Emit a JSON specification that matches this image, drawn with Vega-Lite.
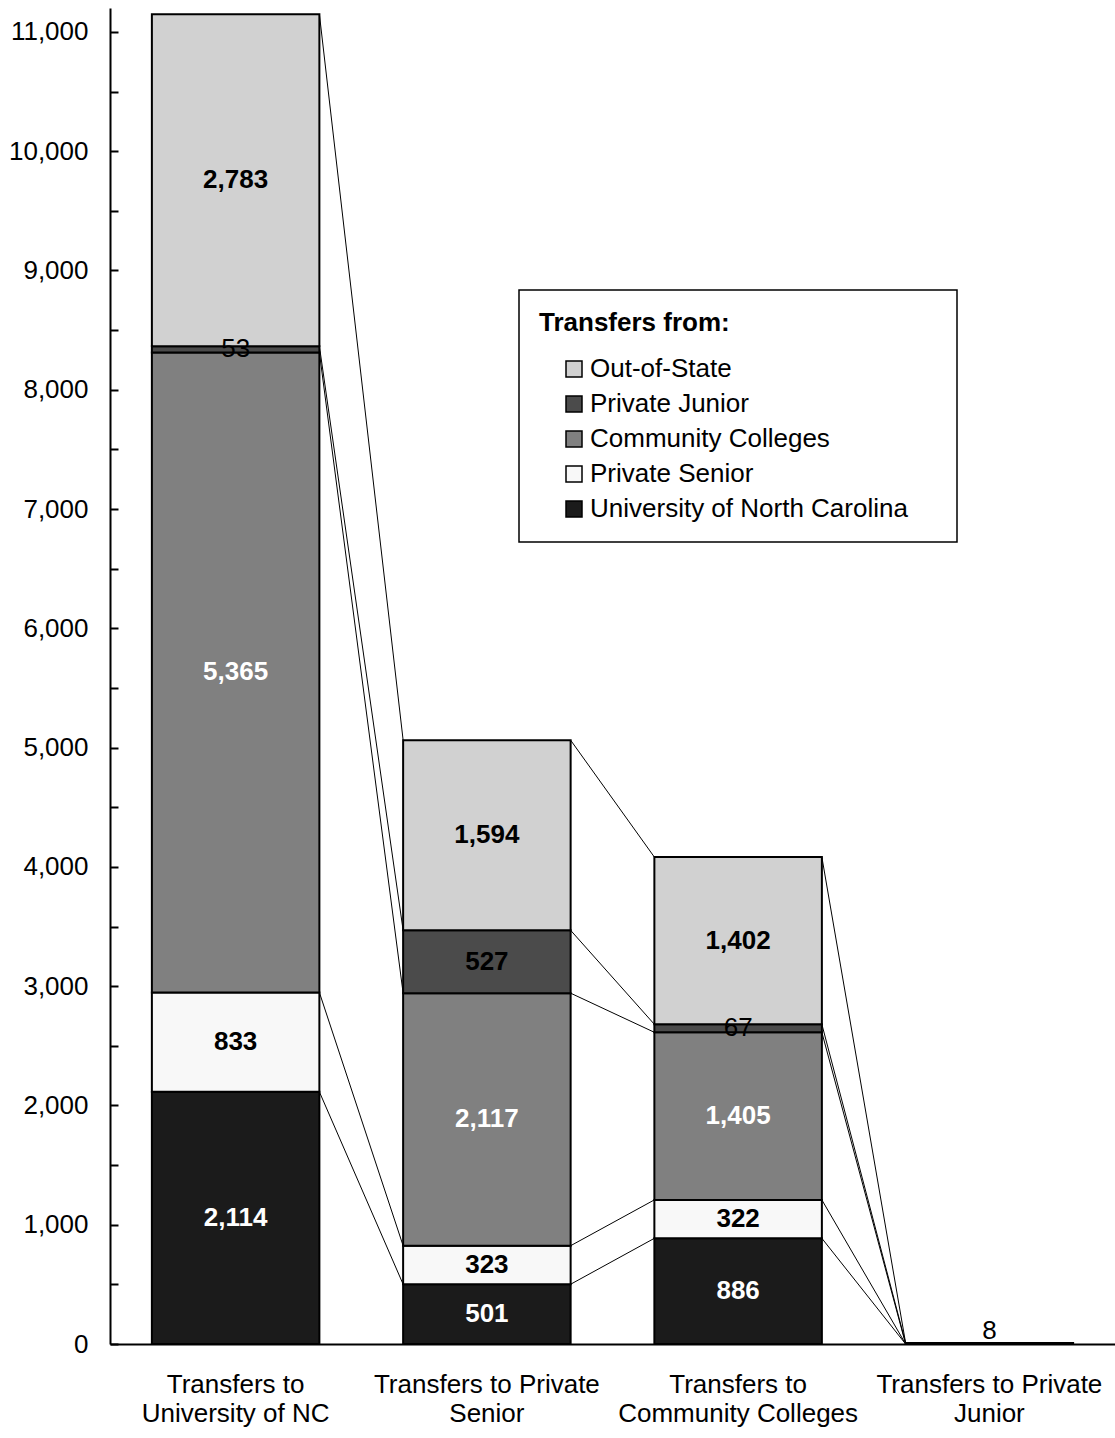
{
  "$schema": "https://vega.github.io/schema/vega-lite/v6.json",
  "autosize": {"type": "none"},
  "padding": {"left": 110, "top": 8, "right": 0, "bottom": 94},
  "width": 1005,
  "height": 1336,
  "background": "white",
  "config": {
    "view": {"stroke": null},
    "font": "Liberation Sans",
    "legend": {"strokeWidth": 1.5}
  },
  "datasets": {
    "bars": [
      {"to": "Transfers to University of NC", "source": "University of North Carolina", "rank": 1, "value": 2114},
      {"to": "Transfers to University of NC", "source": "Private Senior", "rank": 2, "value": 833},
      {"to": "Transfers to University of NC", "source": "Community Colleges", "rank": 3, "value": 5365},
      {"to": "Transfers to University of NC", "source": "Private Junior", "rank": 4, "value": 53},
      {"to": "Transfers to University of NC", "source": "Out-of-State", "rank": 5, "value": 2783},
      {"to": "Transfers to Private Senior", "source": "University of North Carolina", "rank": 1, "value": 501},
      {"to": "Transfers to Private Senior", "source": "Private Senior", "rank": 2, "value": 323},
      {"to": "Transfers to Private Senior", "source": "Community Colleges", "rank": 3, "value": 2117},
      {"to": "Transfers to Private Senior", "source": "Private Junior", "rank": 4, "value": 527},
      {"to": "Transfers to Private Senior", "source": "Out-of-State", "rank": 5, "value": 1594},
      {"to": "Transfers to Community Colleges", "source": "University of North Carolina", "rank": 1, "value": 886},
      {"to": "Transfers to Community Colleges", "source": "Private Senior", "rank": 2, "value": 322},
      {"to": "Transfers to Community Colleges", "source": "Community Colleges", "rank": 3, "value": 1405},
      {"to": "Transfers to Community Colleges", "source": "Private Junior", "rank": 4, "value": 67},
      {"to": "Transfers to Community Colleges", "source": "Out-of-State", "rank": 5, "value": 1402},
      {"to": "Transfers to Private Junior", "source": "Private Junior", "rank": 4, "value": 8}
    ],
    "links": [
      {"from": "Transfers to University of NC", "to": "Transfers to Private Senior", "yFrom": 2114, "yTo": 501},
      {"from": "Transfers to University of NC", "to": "Transfers to Private Senior", "yFrom": 2947, "yTo": 824},
      {"from": "Transfers to University of NC", "to": "Transfers to Private Senior", "yFrom": 8312, "yTo": 2941},
      {"from": "Transfers to University of NC", "to": "Transfers to Private Senior", "yFrom": 8365, "yTo": 3468},
      {"from": "Transfers to University of NC", "to": "Transfers to Private Senior", "yFrom": 11148, "yTo": 5062},
      {"from": "Transfers to Private Senior", "to": "Transfers to Community Colleges", "yFrom": 501, "yTo": 886},
      {"from": "Transfers to Private Senior", "to": "Transfers to Community Colleges", "yFrom": 824, "yTo": 1208},
      {"from": "Transfers to Private Senior", "to": "Transfers to Community Colleges", "yFrom": 2941, "yTo": 2613},
      {"from": "Transfers to Private Senior", "to": "Transfers to Community Colleges", "yFrom": 3468, "yTo": 2680},
      {"from": "Transfers to Private Senior", "to": "Transfers to Community Colleges", "yFrom": 5062, "yTo": 4082},
      {"from": "Transfers to Community Colleges", "to": "Transfers to Private Junior", "yFrom": 886, "yTo": 0},
      {"from": "Transfers to Community Colleges", "to": "Transfers to Private Junior", "yFrom": 1208, "yTo": 0},
      {"from": "Transfers to Community Colleges", "to": "Transfers to Private Junior", "yFrom": 2613, "yTo": 0},
      {"from": "Transfers to Community Colleges", "to": "Transfers to Private Junior", "yFrom": 2680, "yTo": 8},
      {"from": "Transfers to Community Colleges", "to": "Transfers to Private Junior", "yFrom": 4082, "yTo": 8}
    ]
  },
  "layer": [
    {
      "data": {"name": "links"},
      "mark": {"type": "rule", "color": "black", "strokeWidth": 1},
      "encoding": {
        "x": {"field": "from", "type": "nominal", "bandPosition": 1,
              "scale": {"domain": ["Transfers to University of NC", "Transfers to Private Senior", "Transfers to Community Colleges", "Transfers to Private Junior"], "paddingInner": 0.3333, "paddingOuter": 0.1667}},
        "x2": {"field": "to", "bandPosition": 0},
        "y": {"field": "yFrom", "type": "quantitative", "scale": {"domain": [0, 11200], "nice": false}},
        "y2": {"field": "yTo"}
      }
    },
    {
      "data": {"name": "bars"},
      "mark": {"type": "bar", "stroke": "black", "strokeWidth": 2},
      "encoding": {
        "x": {"field": "to", "type": "nominal",
              "scale": {"domain": ["Transfers to University of NC", "Transfers to Private Senior", "Transfers to Community Colleges", "Transfers to Private Junior"], "paddingInner": 0.3333, "paddingOuter": 0.1667},
              "axis": {"title": null, "labelAngle": 0, "labelAlign": "center", "ticks": false, "tickSize": 0, "domainColor": "black", "domainWidth": 2,
                       "labelFont": "Liberation Sans", "labelFontSize": 26, "labelColor": "black", "labelPadding": 40, "labelLineHeight": 29, "labelLimit": 1000,
                       "labelExpr": "indexof(datum.value, 'Private') > 0 ? ['Transfers to Private', substring(datum.value, 21)] : ['Transfers to', substring(datum.value, 13)]"}},
        "y": {"field": "value", "type": "quantitative", "stack": "zero",
              "scale": {"domain": [0, 11200], "nice": false},
              "axis": {"title": null, "grid": false, "values": [0, 500, 1000, 1500, 2000, 2500, 3000, 3500, 4000, 4500, 5000, 5500, 6000, 6500, 7000, 7500, 8000, 8500, 9000, 9500, 10000, 10500, 11000],
                       "labelExpr": "datum.value % 1000 === 0 ? format(datum.value, ',') : ''",
                       "domainColor": "black", "domainWidth": 2, "tickColor": "black", "tickWidth": 2, "tickSize": -8,
                       "labelFont": "Liberation Sans", "labelFontSize": 26, "labelColor": "black", "labelPadding": 30}},
        "color": {"field": "source", "type": "nominal",
                  "scale": {"domain": ["Out-of-State", "Private Junior", "Community Colleges", "Private Senior", "University of North Carolina"],
                            "range": ["#d1d1d1", "#4b4b4b", "#808080", "#f8f8f8", "#1b1b1b"]},
                  "legend": {"orient": "none", "legendX": 409, "legendY": 282, "title": "Transfers from:",
                             "titleFont": "Liberation Sans", "titleFontSize": 26, "titleFontWeight": "bold", "titleColor": "black", "titlePadding": 20, "titleLimit": 1000,
                             "labelFont": "Liberation Sans", "labelFontSize": 26, "labelColor": "black", "labelLimit": 1000,
                             "labelExpr": "datum.label + '\u00a0\u00a0\u00a0\u00a0\u200b'",
                             "symbolType": "square", "symbolSize": 256, "symbolStrokeColor": "black", "symbolStrokeWidth": 1.5,
                             "symbolOffset": 22, "labelOffset": 3, "rowPadding": 9, "padding": 20,
                             "strokeColor": "black", "fillColor": "white"}},
        "order": {"field": "rank", "type": "quantitative"}
      }
    },
    {
      "data": {"name": "bars"},
      "mark": {"type": "text", "font": "Liberation Sans", "fontSize": 26, "fontWeight": "bold", "baseline": "middle", "align": "center"},
      "encoding": {
        "x": {"field": "to", "type": "nominal"},
        "y": {"field": "value", "type": "quantitative", "stack": "zero", "bandPosition": 0.5},
        "order": {"field": "rank", "type": "quantitative"},
        "text": {"condition": {"test": "datum.value < 100", "value": ""}, "field": "value", "type": "quantitative", "format": ","},
        "color": {"condition": {"test": "datum.source === 'University of North Carolina' || datum.source === 'Community Colleges'", "value": "white"}, "value": "black"}
      }
    },
    {
      "data": {"name": "bars"},
      "mark": {"type": "text", "font": "Liberation Sans", "fontSize": 26, "baseline": "middle", "align": "center", "color": "black"},
      "encoding": {
        "x": {"field": "to", "type": "nominal"},
        "y": {"field": "value", "type": "quantitative", "stack": "zero", "bandPosition": 0.5},
        "order": {"field": "rank", "type": "quantitative"},
        "text": {"condition": {"test": "datum.value >= 100 || datum.value < 20", "value": ""}, "field": "value", "type": "quantitative", "format": ","}
      }
    },
    {
      "data": {"name": "bars"},
      "mark": {"type": "text", "font": "Liberation Sans", "fontSize": 26, "baseline": "alphabetic", "align": "center", "color": "black", "dy": -4},
      "encoding": {
        "x": {"field": "to", "type": "nominal"},
        "y": {"field": "value", "type": "quantitative", "stack": "zero"},
        "order": {"field": "rank", "type": "quantitative"},
        "text": {"condition": {"test": "datum.value >= 20", "value": ""}, "field": "value", "type": "quantitative", "format": ","}
      }
    }
  ]
}
